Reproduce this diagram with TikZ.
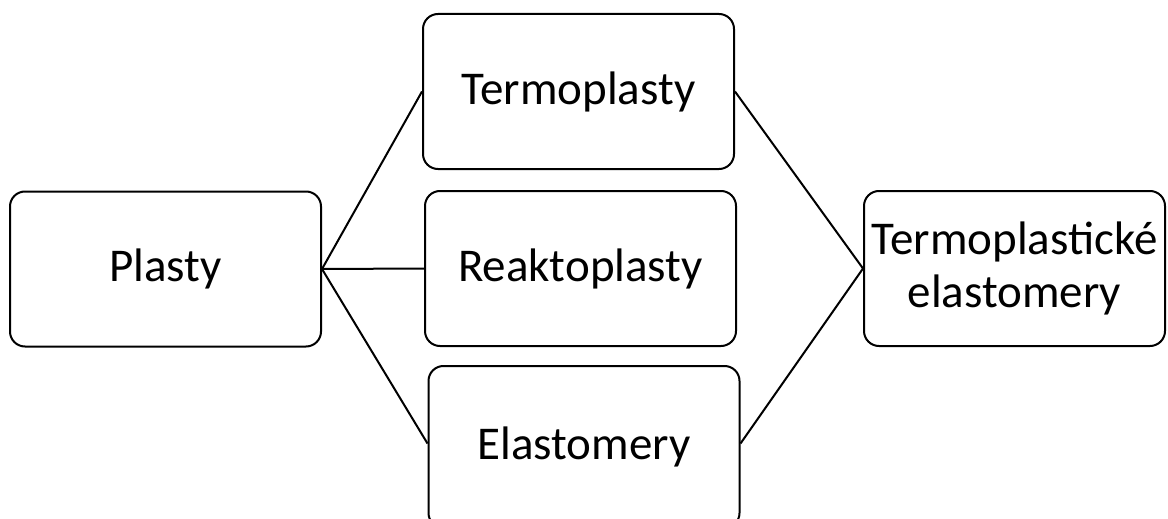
\documentclass[tikz,border=0pt]{standalone}
\usepackage{fontspec}
\setmainfont{Carlito}
\usepackage{tikz}
\usetikzlibrary{positioning, shapes}

\begin{document}
\begin{tikzpicture}[x=1pt, y=-1pt,
	box/.style={draw=black, line width=2pt, rounded corners=15pt, minimum height=155pt, inner sep=0pt, align=center, font=\fontsize{47}{53}\selectfont},
	link/.style={draw=black, line width=2pt}]
	\useasboundingbox (0,0) rectangle (1168,519);
	
	\pgfmathsetmacro{\boxw}{311}
	\node[box, minimum width=\boxw pt] (plasty) at (165.5,269) {Plasty};
	
	\node[box, minimum width=\boxw pt] (termoplasty) at (578.5,91.5) {Termoplasty};
	\node[box, minimum width=\boxw pt] (reaktoplasty) at (580.5,268.5) {Reaktoplasty};
	\node[box, minimum width=\boxw pt, minimum height=162pt] (elastomery) at (584,447) {Elastomery};
	
	\node[box, minimum width=301pt] (tpe) at (1014.5,268.5) {Termoplastické\\elastomery};
	
	%% vetve
	\draw[link] (plasty.east) -- (termoplasty.west);
	\draw[link] (plasty.east) -- (reaktoplasty.west);
	\draw[link] (plasty.east) -- ([yshift=3.5pt]elastomery.west);
	\draw[link] (termoplasty.east) -- (tpe.west);
	\draw[link] ([yshift=3.5pt]elastomery.east) -- (tpe.west);
\end{tikzpicture}
\end{document}
